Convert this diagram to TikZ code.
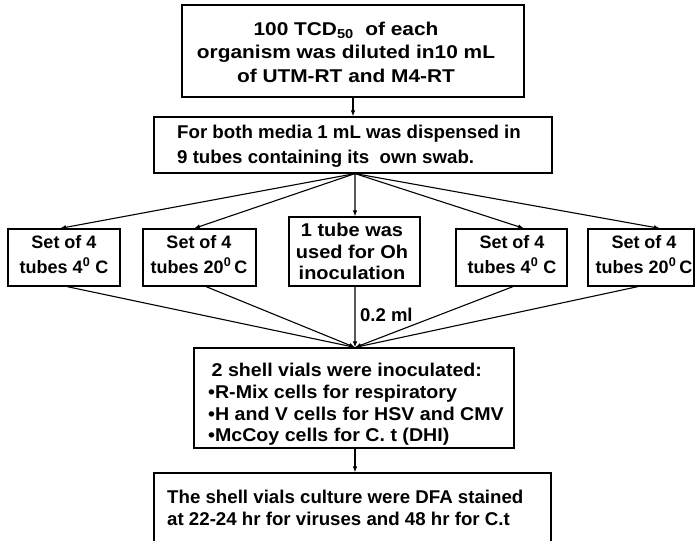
\documentclass[tikz,border=0pt]{standalone}
\usepackage{fontspec}
\setmainfont{Liberation Sans}
\usetikzlibrary{arrows.meta}
\begin{document}
\begin{tikzpicture}[x=1bp,y=-1bp,
  box/.style={draw, line width=1.2bp, inner sep=0pt},
  txt/.style 2 args={inner sep=0pt, font=\bfseries\fontsize{18.5bp}{#1}\selectfont\addfontfeature{FakeStretch=#2}},
  small/.style={inner sep=0pt, anchor=north, align=center, font=\bfseries\fontsize{18bp}{25bp}\selectfont},
  arr/.style={line width=1.1bp, -{Latex[length=6bp,width=4.5bp]}}]
\useasboundingbox (0,0) rectangle (695,541);
% boxes
\node[box, minimum width=342bp, minimum height=92bp] (b1) at (353,51) {};
\node[box, minimum width=398bp, minimum height=56bp] (b2) at (353,145) {};
\node[box, minimum width=112bp, minimum height=57bp] (sa) at (64,257.5) {};
\node[box, minimum width=113bp, minimum height=57bp] (sb) at (199.5,257.5) {};
\node[box, minimum width=131bp, minimum height=69bp] (sc) at (354.5,251.5) {};
\node[box, minimum width=111bp, minimum height=57bp] (sd) at (511.5,257.5) {};
\node[box, minimum width=106bp, minimum height=57bp] (se) at (641,257.5) {};
\node[box, minimum width=320bp, minimum height=100bp] (bf) at (354,398) {};
\node[box, minimum width=397bp, minimum height=71bp] (bg) at (352.5,508.5) {};
% texts
\node[txt={23.3bp}{1.128}, anchor=north, align=center] (t1) at (346,22)
  {100 TCD\textsubscript{50}\ \ of each\\organism was diluted in10 mL\\of UTM-RT and M4-RT};
\node[txt={25bp}{1.01}, anchor=north west, align=left] (t2) at (177,125)
  {For both media 1 mL was dispensed in\\9 tubes containing its\ \ own swab.};
\node[small] (ta) at (64,235) {Set of 4\\tubes 4\textsuperscript{0} C};
\node[small] (tb) at (199,235) {Set of 4\\tubes 20\textsuperscript{0}\,C};
\node[txt={21.5bp}{1.08}, anchor=north, align=center] (tc) at (352,223)
  {1 tube was\\used for Oh\\inoculation};
\node[small] (td) at (512,235) {Set of 4\\tubes 4\textsuperscript{0} C};
\node[small] (te) at (644,235) {Set of 4\\tubes 20\textsuperscript{0}\,C};
\node[txt={21.7bp}{1.06}, anchor=north west, align=left] (tf) at (208,363)
  {\hspace{3.5bp}2 shell vials were inoculated:\\•R-Mix cells for respiratory\\•H and V cells for HSV and CMV\\•McCoy cells for C. t (DHI)};
\node[txt={22bp}{1.01}, anchor=north west, align=left] (tg) at (167,490)
  {The shell vials culture were DFA stained\\at 22-24 hr for viruses and 48 hr for C.t};
\node[txt={22bp}{1.0}, anchor=base west] (tl) at (360,321) {0.2 ml};
% connectors
\coordinate (src) at ([xshift=2bp]b2.south);
\coordinate (conv) at ([xshift=1bp]bf.north);
\draw[arr] (b1.south) -- (b2.north);
\draw[arr] (src) -- ([xshift=-4bp]sa.north);
\draw[arr] (src) -- ([xshift=-5.5bp]sb.north);
\draw[arr] (src) -- ([xshift=0.5bp]sc.north);
\draw[arr] (src) -- ([xshift=12.5bp]sd.north);
\draw[arr] (src) -- ([xshift=19bp]se.north);
\draw[arr] ([xshift=3bp]sa.south) -- (conv);
\draw[arr] ([xshift=6.5bp]sb.south) -- (conv);
\draw[arr] ([xshift=0.5bp]sc.south) -- (conv);
\draw[arr] ([xshift=1.5bp]sd.south) -- (conv);
\draw[arr] ([xshift=-3bp]se.south) -- (conv);
\draw[arr] ([xshift=1bp]bf.south) -- ([xshift=1bp]bf.south |- bg.north);
\end{tikzpicture}
\end{document}
